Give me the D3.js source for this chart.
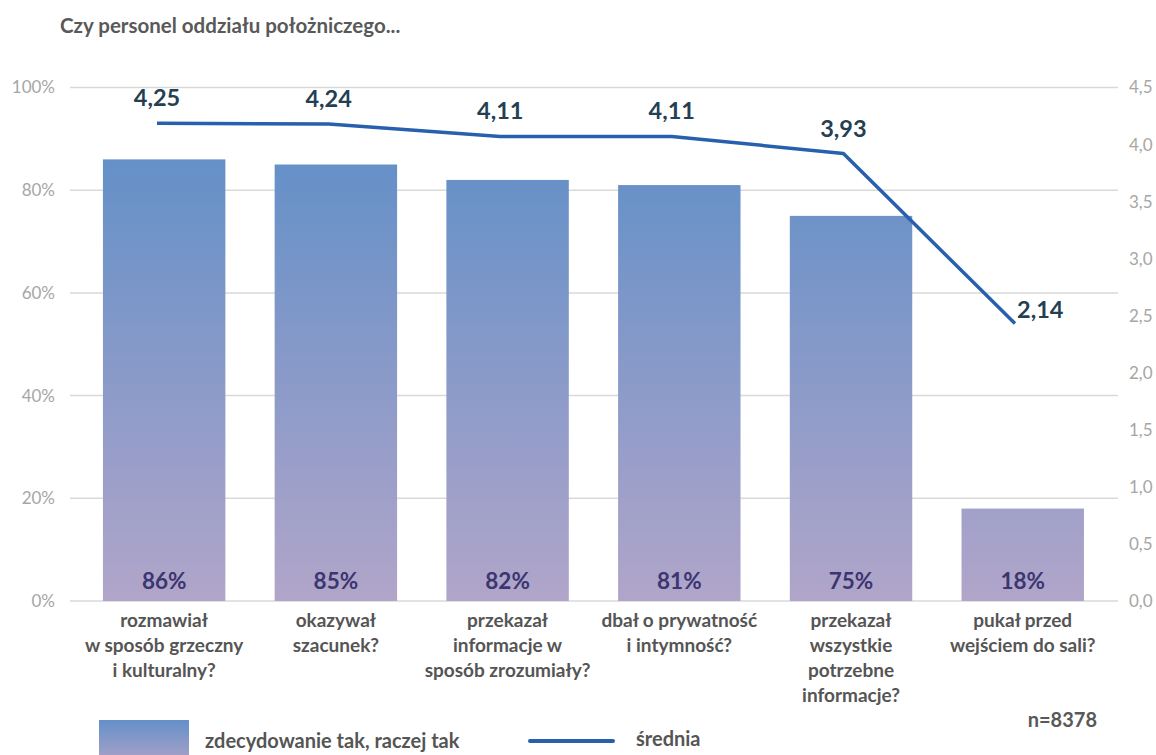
<!DOCTYPE html>
<html><head><meta charset="utf-8">
<script src="https://cdn.jsdelivr.net/npm/d3@7"></script>
<style>
html,body{margin:0;padding:0;background:#fff;}
svg{display:block;font-family:Lato,"Noto Sans",sans-serif;}
</style></head>
<body><svg id="c" width="1156" height="755"></svg>
<script>
const title = "Czy personel oddziału położniczego...";
const categories = [
  "rozmawiał\nw sposób grzeczny\ni kulturalny?",
  "okazywał\nszacunek?",
  "przekazał\ninformacje w\nsposób zrozumiały?",
  "dbał o prywatność\ni intymność?",
  "przekazał\nwszystkie\npotrzebne\ninformacje?",
  "pukał przed\nwejściem do sali?"
];
const barValues = [86, 85, 82, 81, 75, 18];
const meanValues = [4.25, 4.24, 4.11, 4.11, 3.93, 2.14];
const leftTicks = [0, 20, 40, 60, 80, 100];
const rightTicks = [0, 0.5, 1, 1.5, 2, 2.5, 3, 3.5, 4, 4.5];
const barSeriesName = "zdecydowanie tak, raczej tak";
const lineSeriesName = "średnia";
const sampleNote = "n=8378";

const svg = d3.select("#c");
const plotTop = 87.5, plotBottom = 601, gridLeft = 70, gridRight = 1118;

const x = d3.scaleBand().domain(categories).range([78.3, 1108.6]).paddingInner(0.287).paddingOuter(0.1435);
const xLine = d3.scalePoint().domain(categories).range([157, 1015]);
const yLeft = d3.scaleLinear().domain([0, 100]).range([plotBottom, plotTop]);
const yRight = d3.scaleLinear().domain([0, 4.5]).range([plotBottom, plotTop]);
const yLine = d3.scaleLinear().domain([-0.78, 4.625]).range([plotBottom, plotTop]);

const fmtComma = d3.formatLocale({decimal: ",", thousands: " ", grouping: [3], currency: ["", " zł"]});
const f1 = fmtComma.format(".1f");
const f2 = fmtComma.format(".2f");

const defs = svg.append("defs");
const g1 = defs.append("linearGradient").attr("id", "barGrad")
  .attr("gradientUnits", "userSpaceOnUse")
  .attr("x1", 0).attr("x2", 0).attr("y1", yLeft(86)).attr("y2", yLeft(0));
g1.append("stop").attr("offset", 0).attr("stop-color", "#6490c8");
g1.append("stop").attr("offset", 1).attr("stop-color", "#b1a5c9");
const g2 = defs.append("linearGradient").attr("id", "legGrad")
  .attr("x1", 0).attr("x2", 0).attr("y1", 0).attr("y2", 1);
g2.append("stop").attr("offset", 0).attr("stop-color", "#6490c8");
g2.append("stop").attr("offset", 1).attr("stop-color", "#a8a1c8");

// title
svg.append("text").attr("x", 60).attr("y", 33).text(title)
  .attr("font-size", 20.5).attr("font-weight", "bold").attr("fill", "#595959");

// gridlines
svg.append("g").selectAll("line").data(leftTicks).join("line")
  .attr("x1", gridLeft).attr("x2", gridRight)
  .attr("y1", d => yLeft(d)).attr("y2", d => yLeft(d))
  .attr("stroke", "#d9d9d9").attr("stroke-width", 1.5);

// left axis
const la = svg.append("g").attr("transform", `translate(${gridLeft},0)`)
  .call(d3.axisLeft(yLeft).tickValues(leftTicks).tickSize(0).tickPadding(15).tickFormat(d => d + "%"));
la.select(".domain").remove();
la.selectAll("text").attr("font-size", 17).attr("fill", "#a6a6a6").attr("font-family", "Lato, sans-serif");

// right axis
const ra = svg.append("g").attr("transform", `translate(${gridRight},0)`)
  .call(d3.axisRight(yRight).tickValues(rightTicks).tickSize(0).tickPadding(11).tickFormat(d => f1(d)));
ra.select(".domain").remove();
ra.selectAll("text").attr("font-size", 17).attr("fill", "#a6a6a6").attr("font-family", "Lato, sans-serif");

// bars
svg.append("g").selectAll("rect").data(barValues).join("rect")
  .attr("x", (d, i) => x(categories[i])).attr("width", x.bandwidth())
  .attr("y", d => yLeft(d)).attr("height", d => yLeft(0) - yLeft(d))
  .attr("fill", "url(#barGrad)");

// bar labels
svg.append("g").selectAll("text").data(barValues).join("text")
  .attr("x", (d, i) => x(categories[i]) + x.bandwidth() / 2)
  .attr("y", yLeft(0) - 12)
  .attr("text-anchor", "middle").attr("font-size", 22.5).attr("font-weight", "bold")
  .attr("fill", "#3b3570").text(d => d + "%");

// line
const line = d3.line().x((d, i) => xLine(categories[i])).y(d => yLine(d));
svg.append("path").datum(meanValues).attr("d", line)
  .attr("fill", "none").attr("stroke", "#2860ae").attr("stroke-width", 3.5)
  .attr("stroke-linejoin", "round");

// line labels
const n = meanValues.length;
svg.append("g").selectAll("text").data(meanValues).join("text")
  .attr("x", (d, i) => xLine(categories[i]) + (i === n - 1 ? 2 : 0))
  .attr("y", (d, i) => yLine(d) + (i === n - 1 ? -6 : -17))
  .attr("text-anchor", (d, i) => i === n - 1 ? "start" : "middle")
  .attr("font-size", 23.5).attr("font-weight", "bold").attr("fill", "#243f52")
  .text(d => f2(d));

// category labels
const cl = svg.append("g").selectAll("text").data(categories).join("text")
  .attr("x", d => x(d) + x.bandwidth() / 2).attr("y", 627)
  .attr("text-anchor", "middle").attr("font-size", 19).attr("font-weight", "bold").attr("fill", "#555555");
cl.each(function(d) {
  const t = d3.select(this);
  d.split("\n").forEach((s, j) => {
    t.append("tspan").attr("x", x(d) + x.bandwidth() / 2).attr("dy", j === 0 ? 0 : 25).text(s);
  });
});

// note
svg.append("text").attr("x", 1097).attr("y", 727).attr("text-anchor", "end")
  .attr("font-size", 20).attr("font-weight", "bold").attr("fill", "#595959").text(sampleNote);

// legend
svg.append("rect").attr("x", 99).attr("y", 720).attr("width", 90).attr("height", 40).attr("fill", "url(#legGrad)");
svg.append("text").attr("x", 205).attr("y", 748).attr("font-size", 20).attr("font-weight", "bold")
  .attr("fill", "#555555").text(barSeriesName);
svg.append("line").attr("x1", 530).attr("x2", 613).attr("y1", 741).attr("y2", 741)
  .attr("stroke", "#2860ae").attr("stroke-width", 4).attr("stroke-linecap", "round");
svg.append("text").attr("x", 636).attr("y", 746).attr("font-size", 20).attr("font-weight", "bold")
  .attr("fill", "#555555").text(lineSeriesName);
</script></body></html>
